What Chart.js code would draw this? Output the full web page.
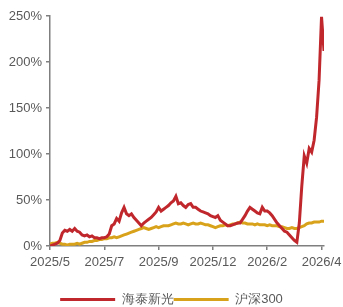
<!DOCTYPE html>
<html>
<head>
<meta charset="utf-8">
<script src="https://cdn.jsdelivr.net/npm/chart.js@4"></script>
<style>
  html, body { margin: 0; padding: 0; background: #fff; }
  #wrap { width: 343px; height: 307px; }
</style>
</head>
<body>
<div id="wrap"><canvas id="chart" width="343" height="307"></canvas></div>
<script>
// Tick labels, one every 22 trading-day steps
const tickLabels = ['2025/5', '2025/7', '2025/9', '2025/12', '2026/2', '2026/4'];
const tickStep = 22;

// Cumulative return (%)
const haitai = [
    0, 1, 2, 3, 6, 14, 17, 16, 18, 16, 19, 16, 15, 12, 11, 12, 10, 11, 9, 9,
    8, 9, 9, 10, 13, 22, 24, 30, 27, 36, 42, 35, 33, 35, 31, 28, 25, 22, 25, 27,
    29, 31, 34, 37, 42, 38, 40, 42, 44, 47, 49, 54, 46, 47, 44, 42, 45, 46, 42, 42,
    40, 38, 37, 36, 35, 33, 32, 31, 33, 28, 26, 24, 22, 22, 23, 24, 25, 25, 29, 33,
    38, 42, 40, 38, 36, 35, 42, 38, 38, 36, 33, 29, 25, 22, 19, 16, 15, 12, 9, 6,
    4, 25, 65, 98, 90, 106, 102, 115, 140, 180, 249, 212
];
const hs300 = [
    2, 3, 3, 4, 3, 2, 2, 1, 2, 2, 2, 3, 2, 3, 4, 4, 5, 5, 6, 6,
    7, 7, 8, 8, 9, 9, 10, 9, 10, 11, 12, 13, 14, 15, 16, 17, 18, 19, 20, 19,
    18, 19, 20, 21, 20, 21, 22, 22, 22, 23, 24, 25, 24, 24, 25, 24, 23, 24, 25, 24,
    24, 25, 24, 23, 23, 22, 21, 20, 21, 22, 22, 23, 22, 23, 24, 24, 25, 26, 25, 25,
    24, 24, 24, 23, 24, 23, 23, 23, 22, 23, 22, 22, 22, 21, 21, 20, 19, 19, 20, 19,
    19, 20, 21, 22, 24, 25, 25, 26, 26, 26, 27, 27
];

const axisColor = '#7f7f7f';
const textColor = '#595959';
const font = { family: 'Liberation Sans, Arial, sans-serif', size: 13 };

const toPoints = arr => arr.map((v, i) => ({ x: i, y: v }));

new Chart(document.getElementById('chart').getContext('2d'), {
    type: 'line',
    data: {
        datasets: [
            {
                label: '海泰新光',
                data: toPoints(haitai),
                borderColor: '#c0272d',
                backgroundColor: '#c0272d',
                borderWidth: 3,
                pointRadius: 0,
                tension: 0
            },
            {
                label: '沪深300',
                data: toPoints(hs300),
                borderColor: '#d9a21b',
                backgroundColor: '#d9a21b',
                borderWidth: 3,
                pointRadius: 0,
                tension: 0
            }
        ]
    },
    options: {
        responsive: false,
        animation: false,
        layout: { padding: { top: 16, right: 0, left: 0, bottom: -9 } },
        plugins: {
            tooltip: { enabled: false },
            legend: {
                position: 'bottom',
                labels: {
                    color: textColor,
                    font: font,
                    boxWidth: 55,
                    boxHeight: 3,
                    padding: 0,
                    generateLabels: chart => chart.data.datasets.map((ds, i) => ({
                        text: ds.label,
                        fillStyle: ds.borderColor,
                        strokeStyle: ds.borderColor,
                        lineWidth: 0,
                        fontColor: textColor,
                        datasetIndex: i
                    }))
                }
            }
        },
        scales: {
            x: {
                type: 'linear',
                min: 0,
                max: haitai.length - 1,
                afterFit: s => { s.height = 47; s.paddingRight = 19; },
                grid: { drawOnChartArea: false, drawTicks: true, tickLength: 4, color: axisColor, lineWidth: 1.5 },
                border: { color: axisColor, width: 1.5 },
                ticks: {
                    stepSize: tickStep,
                    includeBounds: false,
                    maxRotation: 0,
                    autoSkip: false,
                    padding: 5,
                    color: textColor,
                    font: font,
                    callback: v => tickLabels[v / tickStep] || ''
                }
            },
            y: {
                min: 0,
                max: 250,
                afterFit: s => { s.width = 50; },
                grid: { drawOnChartArea: false, drawTicks: true, tickLength: 4, color: axisColor, lineWidth: 1.5 },
                border: { color: axisColor, width: 1.5 },
                ticks: {
                    stepSize: 50,
                    padding: 4,
                    color: textColor,
                    font: font,
                    callback: v => v + '%'
                }
            }
        }
    }
});
</script>
</body>
</html>
